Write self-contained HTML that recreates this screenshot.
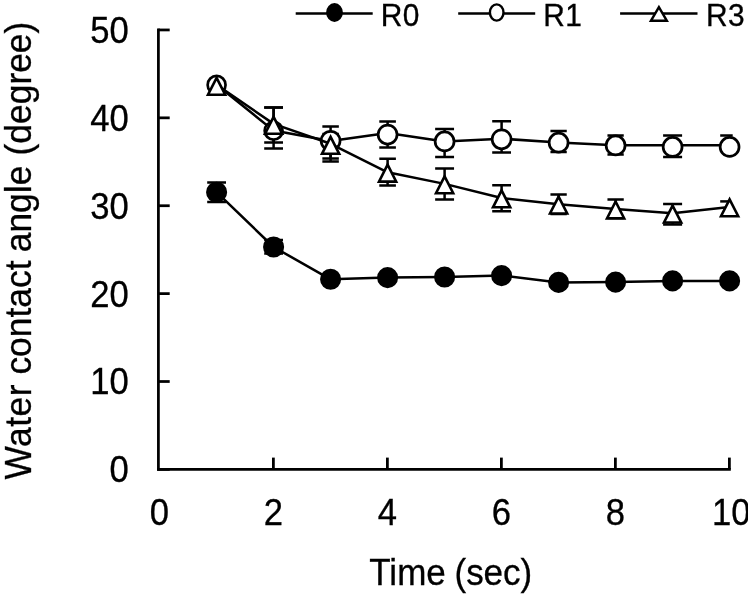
<!DOCTYPE html>
<html><head><meta charset="utf-8"><title>Water contact angle</title>
<style>html,body{margin:0;padding:0;background:#fff}body{width:748px;height:595px;overflow:hidden}svg{display:block}text{font-family:"Liberation Sans",Arial,sans-serif;fill:#000;stroke:#000;stroke-width:0.3px}</style></head><body>
<svg width="748" height="595" viewBox="0 0 748 595">
<rect width="748" height="595" fill="#fff"/>
<g stroke="#000" stroke-width="2.75" fill="none" stroke-linecap="butt">
<path d="M158.4 28.55V470.79999999999995"/>
<path d="M157.05 469.4H730.8"/>
<path d="M158.4 469.40H169.7"/>
<path d="M158.4 381.51H169.7"/>
<path d="M158.4 293.62H169.7"/>
<path d="M158.4 205.73H169.7"/>
<path d="M158.4 117.84H169.7"/>
<path d="M158.4 29.95H169.7"/>
<path d="M273.40 457.6V469.4"/>
<path d="M387.40 457.6V469.4"/>
<path d="M501.40 457.6V469.4"/>
<path d="M615.40 457.6V469.4"/>
<path d="M729.40 457.6V469.4"/>
</g>
<g font-size="35px">
<text transform="translate(128.8 482.30) scale(0.99 1.065)" text-anchor="end">0</text>
<text transform="translate(128.8 394.44) scale(0.99 1.065)" text-anchor="end">10</text>
<text transform="translate(128.8 306.58) scale(0.99 1.065)" text-anchor="end">20</text>
<text transform="translate(128.8 218.72) scale(0.99 1.065)" text-anchor="end">30</text>
<text transform="translate(128.8 130.86) scale(0.99 1.065)" text-anchor="end">40</text>
<text transform="translate(128.8 43.00) scale(0.99 1.065)" text-anchor="end">50</text>
<text transform="translate(159.30 525.1) scale(0.99 1.07)" text-anchor="middle">0</text>
<text transform="translate(273.30 525.1) scale(0.99 1.07)" text-anchor="middle">2</text>
<text transform="translate(387.30 525.1) scale(0.99 1.07)" text-anchor="middle">4</text>
<text transform="translate(501.30 525.1) scale(0.99 1.07)" text-anchor="middle">6</text>
<text transform="translate(615.30 525.1) scale(0.99 1.07)" text-anchor="middle">8</text>
<text transform="translate(731.30 525.1) scale(0.99 1.07)" text-anchor="middle">10</text>
</g>
<text font-size="35px" transform="translate(369.3 584.6) scale(1 1.07)" word-spacing="-1" id="xt">Time (sec)</text>
<text font-size="35px" transform="translate(30.6 479.6) rotate(-90) scale(1.012 1.055)" word-spacing="-0.5" id="yt"><tspan letter-spacing="0.5">Water</tspan> contact <tspan dx="-1.2">angle</tspan> <tspan dx="0.8">(degree)</tspan></text>
<g stroke="#000" stroke-width="2.5" fill="none" stroke-linejoin="round">
<path d="M216.6 182.4V201.9M207.20 182.4H226.00M207.20 201.9H226.00"/>
<path d="M273.6 240.0V253.6M264.20 240.0H283.00M264.20 253.6H283.00"/>
<path d="M273.6 107.6V148.6M264.20 107.6H283.00M264.20 148.6H283.00"/>
<path d="M330.6 126.6V158.6M322.35 126.6H338.85M322.35 158.6H338.85"/>
<path d="M387.6 121.5V147.4M379.30 121.5H395.90M379.30 147.4H395.90"/>
<path d="M444.6 128.9V157.1M435.15 128.9H454.05M435.15 157.1H454.05"/>
<path d="M501.6 121.3V152.4M492.20 121.3H511.00M492.20 152.4H511.00"/>
<path d="M558.6 131.0V152.0M550.45 131.0H566.75M550.45 152.0H566.75"/>
<path d="M615.6 135.5V154.6M607.45 135.5H623.75M607.45 154.6H623.75"/>
<path d="M672.6 135.5V157.0M663.10 135.5H682.10M663.10 157.0H682.10"/>
<path d="M720.20 135.5H732.70"/>
<path d="M273.6 107.6V142.4M264.20 107.6H283.00M264.20 142.4H283.00"/>
<path d="M330.6 134.0V161.6M322.35 134.0H338.85M322.35 161.6H338.85"/>
<path d="M387.6 158.8V185.4M379.30 158.8H395.90M379.30 185.4H395.90"/>
<path d="M444.6 168.5V199.5M435.15 168.5H454.05M435.15 199.5H454.05"/>
<path d="M501.6 185.3V211.2M492.20 185.3H511.00M492.20 211.2H511.00"/>
<path d="M558.6 194.5V214.0M550.45 194.5H566.75M550.45 214.0H566.75"/>
<path d="M615.6 199.6V218.0M607.45 199.6H623.75M607.45 218.0H623.75"/>
<path d="M672.6 204.0V224.5M663.10 204.0H682.10M663.10 224.5H682.10"/>
<path d="M720.20 201.4H731.00"/>
<polyline points="216.6,192.2 273.6,247.0 330.6,279.3 387.6,277.6 444.6,277.0 501.6,275.6 558.6,282.4 615.6,282.1 672.6,280.9 729.6,280.9"/>
<circle cx="216.6" cy="192.2" r="9.3" fill="#000"/>
<circle cx="273.6" cy="247.0" r="9.3" fill="#000"/>
<circle cx="330.6" cy="279.3" r="9.3" fill="#000"/>
<circle cx="387.6" cy="277.6" r="9.3" fill="#000"/>
<circle cx="444.6" cy="277.0" r="9.3" fill="#000"/>
<circle cx="501.6" cy="275.6" r="9.3" fill="#000"/>
<circle cx="558.6" cy="282.4" r="9.3" fill="#000"/>
<circle cx="615.6" cy="282.1" r="9.3" fill="#000"/>
<circle cx="672.6" cy="280.9" r="9.3" fill="#000"/>
<circle cx="729.6" cy="280.9" r="9.3" fill="#000"/>
<polyline points="216.6,84.8 273.6,130.6 330.6,141.1 387.6,133.0 444.6,141.4 501.6,138.7 558.6,142.5 615.6,145.2 672.6,145.3 729.6,145.3"/>
<circle cx="216.6" cy="84.9" r="8.95" fill="#fff" stroke-width="2.7"/>
<circle cx="273.6" cy="130.7" r="8.95" fill="#fff" stroke-width="2.7"/>
<circle cx="330.6" cy="140.8" r="9.45" fill="#fff" stroke-width="2.7"/>
<circle cx="387.6" cy="134.6" r="9.45" fill="#fff" stroke-width="2.7"/>
<circle cx="444.6" cy="141.4" r="9.45" fill="#fff" stroke-width="2.7"/>
<circle cx="501.6" cy="139.3" r="9.45" fill="#fff" stroke-width="2.7"/>
<circle cx="558.6" cy="142.65" r="9.45" fill="#fff" stroke-width="2.7"/>
<circle cx="615.6" cy="145.4" r="9.45" fill="#fff" stroke-width="2.7"/>
<circle cx="672.6" cy="146.9" r="9.45" fill="#fff" stroke-width="2.7"/>
<circle cx="729.6" cy="146.9" r="9.45" fill="#fff" stroke-width="2.7"/>
<polyline points="216.6,84.8 273.6,123.9 330.6,143.8 387.6,172.3 444.6,183.9 501.6,198.0 558.6,204.2 615.6,209.1 672.6,213.2 729.6,206.9"/>
<path d="M216.6 77.85L225.2 94.75H208.0Z" fill="#fff" stroke-width="2.6" stroke-linejoin="miter"/>
<path d="M273.6 116.90L282.2 133.80H265.0Z" fill="#fff" stroke-width="2.6" stroke-linejoin="miter"/>
<path d="M330.6 136.90L339.2 153.80H322.0Z" fill="#fff" stroke-width="2.6" stroke-linejoin="miter"/>
<path d="M387.6 164.70L396.2 181.60H379.0Z" fill="#fff" stroke-width="2.6" stroke-linejoin="miter"/>
<path d="M444.6 176.30L453.2 193.20H436.0Z" fill="#fff" stroke-width="2.6" stroke-linejoin="miter"/>
<path d="M501.6 190.40L510.2 207.30H493.0Z" fill="#fff" stroke-width="2.6" stroke-linejoin="miter"/>
<path d="M558.6 196.60L567.2 213.50H550.0Z" fill="#fff" stroke-width="2.6" stroke-linejoin="miter"/>
<path d="M615.6 201.50L624.2 218.40H607.0Z" fill="#fff" stroke-width="2.6" stroke-linejoin="miter"/>
<path d="M672.6 205.60L681.2 222.50H664.0Z" fill="#fff" stroke-width="2.6" stroke-linejoin="miter"/>
<path d="M729.6 199.30L738.2 216.20H721.0Z" fill="#fff" stroke-width="2.6" stroke-linejoin="miter"/>
</g>
<g stroke="#000" stroke-width="2.4" fill="none">
<path d="M295.7 13.45H372.7M458.2 13.45H535.2M620.1 13.45H697.5"/>
<ellipse cx="334.5" cy="12.5" rx="7.2" ry="8.2" fill="#000"/>
<ellipse cx="496.7" cy="12.5" rx="6.8" ry="8.1" fill="#fff"/>
<path d="M658.9 7.1L666.9 20.8H650.9Z" fill="#fff"/>
</g>
<g font-size="29.3px">
<text transform="translate(380.8 25.8) scale(1.02 1.085)" letter-spacing="0.4">R0</text>
<text transform="translate(543.2 25.8) scale(1.02 1.085)" letter-spacing="0.4">R1</text>
<text transform="translate(706.0 25.8) scale(1.02 1.085)" letter-spacing="0.4">R3</text>
</g>
</svg></body></html>
